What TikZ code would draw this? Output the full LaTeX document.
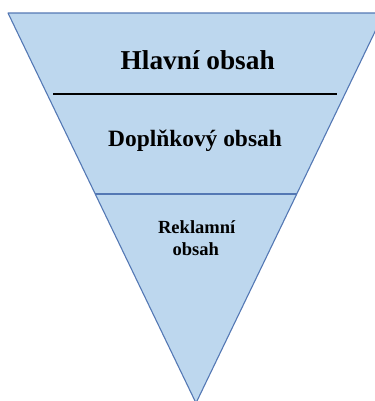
\documentclass[tikz,border=0pt]{standalone}
\usepackage{fontspec}
\setmainfont{Liberation Serif}
\definecolor{funnelfill}{RGB}{189,215,238}
\definecolor{funneledge}{RGB}{84,120,180}
\begin{document}
\begin{tikzpicture}[x=1bp,y=-1bp,
  lbl/.style={inner sep=0pt,anchor=base,font=\bfseries\fontsize{#1}{#1}\selectfont},
  edge/.style={draw=funneledge,line width=1.1bp}]
\useasboundingbox (0,0) rectangle (375,401);
\begin{scope}
\clip (0,0) rectangle (375,401);
\coordinate (tl) at (8,13);
\coordinate (tr) at (384,13);
\coordinate (ap) at (196,403);
\fill[funnelfill] (tl) -- (tr) -- (ap) -- cycle;
\draw[edge,line join=round] (tl) -- (tr) -- (ap) -- cycle;
\coordinate (bl) at (95.2,194);
\coordinate (br) at (296.7,194);
\draw[edge] (bl) -- (br);
\end{scope}
\coordinate (kl) at (53,94);
\coordinate (kr) at (337,94);
\draw[black,line width=1.4bp] (kl) -- (kr);
\node[lbl=27.4] (hlavni) at (197.7,69) {Hlavní obsah};
\node[lbl=23.5] (doplnek) at (195,146) {Doplňkový obsah};
\node[lbl=18.6] (rek1) at (196.7,233.3) {Reklamní};
\node[lbl=18.6] (rek2) at (195.8,255) {obsah};
\end{tikzpicture}
\end{document}
